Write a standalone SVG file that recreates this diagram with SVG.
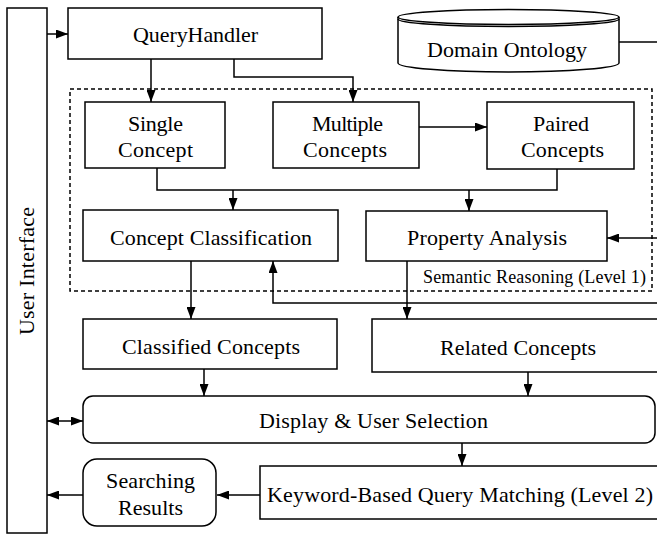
<svg xmlns="http://www.w3.org/2000/svg" width="657" height="534" viewBox="0 0 657 534">
  <defs>
    <marker id="arrow" markerUnits="userSpaceOnUse" markerWidth="12" markerHeight="9" refX="12" refY="4.5" orient="auto">
      <path d="M0,0 L12,4.5 L0,9 z" fill="#000"/>
    </marker>
    <marker id="arrowStart" markerUnits="userSpaceOnUse" markerWidth="12" markerHeight="9" refX="0" refY="4.5" orient="auto">
      <path d="M12,0 L0,4.5 L12,9 z" fill="#000"/>
    </marker>
    <style>
      .box { fill: #fff; stroke: #000; stroke-width: 1.5; }
      .line { fill: none; stroke: #000; stroke-width: 1.5; }
      .arr { fill: none; stroke: #000; stroke-width: 1.5; marker-end: url(#arrow); }
      .dash { fill: none; stroke: #000; stroke-width: 1.5; stroke-dasharray: 4 3; }
      text { font-size: 22px; fill: #000; }
      .small { font-size: 18px; }
    </style>
  </defs>

  <rect width="657" height="534" fill="#fff"/>

  <g font-family="'Liberation Serif', Tinos, 'Times New Roman', serif">

  <!-- Semantic reasoning boundary -->
  <g id="semantic-reasoning">
    <rect class="dash" x="70" y="89" width="582" height="202"/>
    <text class="small" x="423" y="283" textLength="223" lengthAdjust="spacing">Semantic Reasoning (Level 1)</text>
  </g>

  <!-- Connectors -->
  <g id="connectors">
    <path class="arr" d="M47,34 H68"/>
    <path class="arr" d="M151,59 V102"/>
    <path class="arr" d="M234,59 V77 H353 V102"/>
    <path class="arr" d="M419,127 H487"/>
    <path class="line" d="M157,168 V190 H557 V169"/>
    <path class="arr" d="M233,190 V210"/>
    <path class="arr" d="M469,190 V211"/>
    <path class="line" d="M619,42 H660"/>
    <path class="arr" d="M660,238 H607"/>
    <path class="arr" d="M660,303 H273 V261"/>
    <path class="arr" d="M191,261 V319"/>
    <path class="arr" d="M407,261 V319"/>
    <path class="arr" d="M204,369 V396"/>
    <path class="arr" d="M528,372 V396"/>
    <path class="arr" d="M47,421 H83" marker-start="url(#arrowStart)"/>
    <path class="arr" d="M462,443 V466"/>
    <path class="arr" d="M260,495 H217"/>
    <path class="arr" d="M83,495 H47"/>
  </g>

  <g id="user-interface">
    <rect class="box" x="7" y="8" width="40" height="525"/>
    <text transform="translate(34,335) rotate(-90)" x="0" y="0" textLength="128" lengthAdjust="spacing">User Interface</text>
  </g>

  <g id="query-handler">
    <rect class="box" x="68" y="8" width="254" height="51"/>
    <text x="133" y="42" textLength="125" lengthAdjust="spacing">QueryHandler</text>
  </g>

  <g id="domain-ontology">
    <path class="box" d="M398,17 V63 A110.5,9 0 0 0 619,63 V17"/>
    <ellipse class="box" cx="508.5" cy="17" rx="110.5" ry="7.5"/>
    <path class="line" d="M398,19 A110.5,7.5 0 0 0 619,19"/>
    <text x="427" y="57" textLength="160" lengthAdjust="spacing">Domain Ontology</text>
  </g>

  <g id="single-concept">
    <rect class="box" x="85" y="102" width="140" height="66"/>
    <text x="128" y="131" textLength="55" lengthAdjust="spacing">Single</text>
    <text x="118" y="157" textLength="75" lengthAdjust="spacing">Concept</text>
  </g>

  <g id="multiple-concepts">
    <rect class="box" x="273" y="102" width="146" height="66"/>
    <text x="312" y="131" textLength="71" lengthAdjust="spacing">Multiple</text>
    <text x="303" y="157" textLength="84" lengthAdjust="spacing">Concepts</text>
  </g>

  <g id="paired-concepts">
    <rect class="box" x="487" y="102" width="147" height="67"/>
    <text x="533" y="131" textLength="56" lengthAdjust="spacing">Paired</text>
    <text x="521" y="157" textLength="83" lengthAdjust="spacing">Concepts</text>
  </g>

  <g id="concept-classification">
    <rect class="box" x="83" y="210" width="255" height="51"/>
    <text x="110" y="245" textLength="202" lengthAdjust="spacing">Concept Classification</text>
  </g>

  <g id="property-analysis">
    <rect class="box" x="366" y="211" width="241" height="50"/>
    <text x="407" y="245" textLength="160" lengthAdjust="spacing">Property Analysis</text>
  </g>

  <g id="classified-concepts">
    <rect class="box" x="83" y="319" width="254" height="50"/>
    <text x="122" y="354" textLength="178" lengthAdjust="spacing">Classified Concepts</text>
  </g>

  <g id="related-concepts">
    <rect class="box" x="372" y="319" width="300" height="53"/>
    <text x="440" y="355" textLength="156" lengthAdjust="spacing">Related Concepts</text>
  </g>

  <g id="display-selection">
    <rect class="box" x="83" y="396" width="572" height="47" rx="10" ry="10"/>
    <text x="259" y="428" textLength="229" lengthAdjust="spacing">Display &amp; User Selection</text>
  </g>

  <g id="keyword-matching">
    <rect class="box" x="260" y="466" width="410" height="53"/>
    <text x="267" y="502" textLength="386" lengthAdjust="spacing">Keyword-Based Query Matching (Level 2)</text>
  </g>

  <g id="searching-results">
    <rect class="box" x="83" y="459" width="133" height="67" rx="14" ry="14"/>
    <text x="106" y="488" textLength="89" lengthAdjust="spacing">Searching</text>
    <text x="118" y="515" textLength="65" lengthAdjust="spacing">Results</text>
  </g>

  </g>
</svg>
